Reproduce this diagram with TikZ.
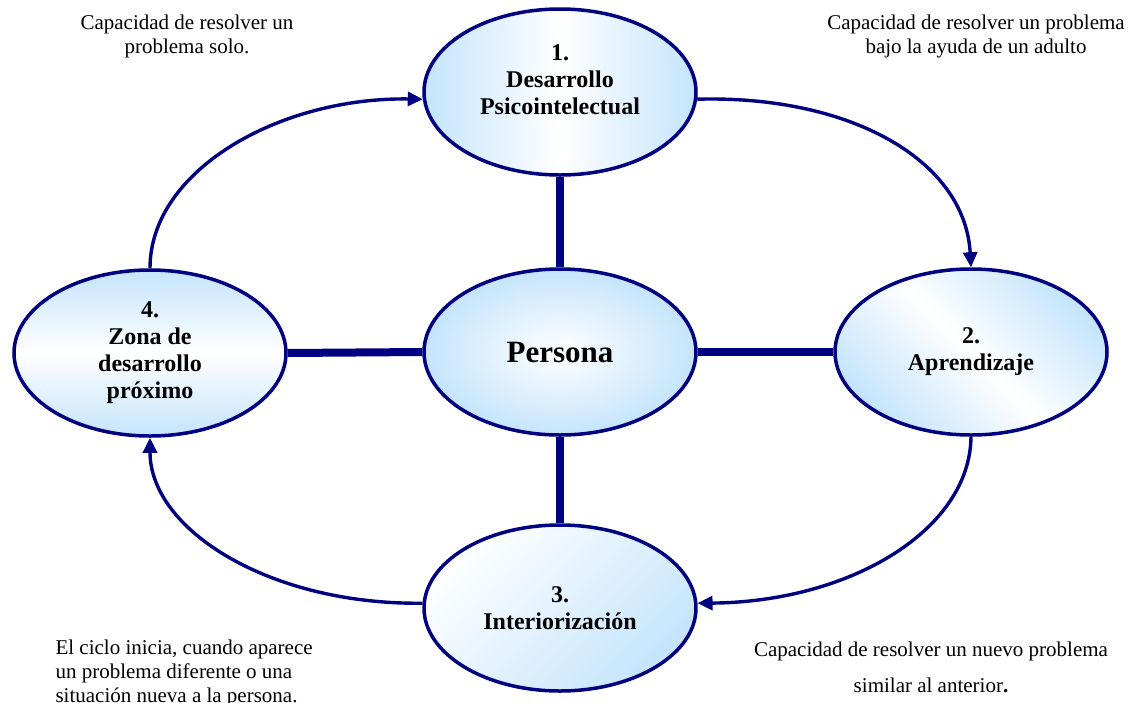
\documentclass[tikz,border=0pt]{standalone}
\usepackage{fontspec}
\setmainfont{Liberation Serif}
\usetikzlibrary{shapes.geometric,arrows.meta}
\definecolor{navy}{RGB}{0,0,128}
\definecolor{paleblue}{RGB}{196,228,252}
\tikzset{
  stage/.style={ellipse, draw=navy, line width=3.5pt, minimum width=272pt,
    minimum height=166pt, inner sep=0pt, align=center,
    font=\fontsize{24}{27}\selectfont\bfseries},
  spoke/.style={draw=navy, line width=8pt},
  cycle/.style={draw=navy, line width=3.4pt, -{Triangle[length=15pt,width=14pt]}},
  note/.style={font=\fontsize{21}{24}\selectfont, align=center}
}
\begin{document}
\begin{tikzpicture}[x=1pt,y=-1pt]
  \useasboundingbox (0,0) rectangle (1133,702);
  \clip (0,0) rectangle (1133,702);

  % the four stages around the person
  \node[stage, left color=paleblue, right color=paleblue, middle color=white,
        label={[name=t1, yshift=12pt, font=\fontsize{24}{27}\selectfont\bfseries, align=center]center:1.\\Desarrollo\\Psicointelectual}]
        (d1) at (560,92) {};
  \node[stage, inner color=white, outer color=paleblue,
        font=\fontsize{31}{34}\selectfont\bfseries] (per) at (560,352) {Persona};
  \node[stage, top color=paleblue, bottom color=paleblue, middle color=white,
        shading angle=-45] (d2) at (971,352) {2.\\Aprendizaje};
  \node[stage, top color=white, bottom color=paleblue, shading angle=45]
        (d3) at (560,608) {3.\\Interiorizaci\'on};
  \node[stage, top color=paleblue, bottom color=paleblue, middle color=white]
        (d4) at (150,353) {4.\\Zona de\\desarrollo\\pr\'oximo};

  % spokes from the centre
  \draw[spoke] (d1.south) -- (per.north);
  \draw[spoke] (per.south) -- (d3.north);
  \draw[spoke] (d4.east) -- (per.west);
  \draw[spoke] (per.east) -- (d2.west);

  % the cycle
  \draw[cycle] (d1.-3) .. controls (850,95) and (965,160) .. (d2.north);
  \draw[cycle] (d2.south) .. controls (970,530) and (850,602) .. (d3.2);
  \draw[cycle] (d3.178) .. controls (270,605) and (150,530) .. (d4.south);
  \draw[cycle] (d4.north) .. controls (150,170) and (280,97) .. (d1.183);

  % notes
  \node[note] (n1) at (187,36) {Capacidad de resolver un\\problema solo.};
  \node[note] (n2) at (976,36) {Capacidad de resolver un problema\\bajo la ayuda de un adulto};
  \node[note, align=left, anchor=west] (n3) at (52,673)
    {El ciclo inicia, cuando aparece\\un problema diferente o una\\situaci\'on nueva a la persona.};
  \node[note, font=\fontsize{21}{36}\selectfont] (n4) at (931,667)
    {Capacidad de resolver un nuevo problema\\similar al anterior\textbf{.}};
\end{tikzpicture}
\end{document}
